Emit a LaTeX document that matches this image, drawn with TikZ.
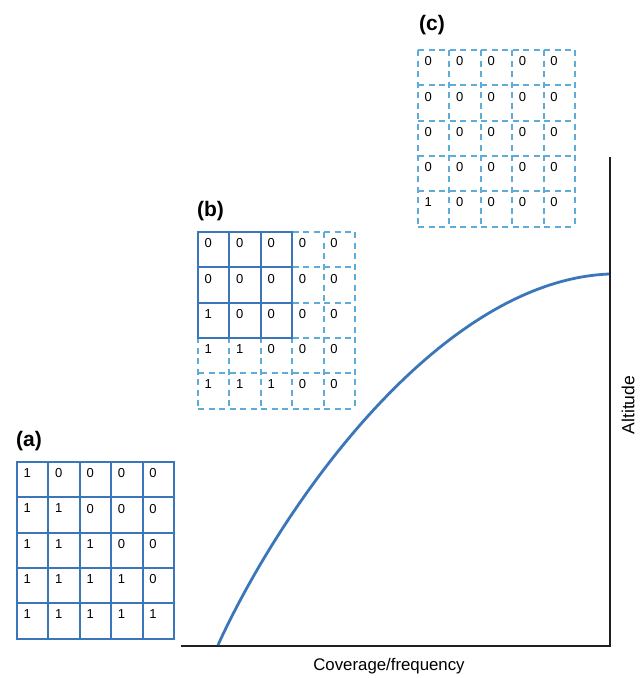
\documentclass[tikz,border=0pt]{standalone}
\usepackage{fontspec}
\setmainfont{Liberation Sans}
\usetikzlibrary{positioning}

\definecolor{gridblue}{RGB}{58,118,185}
\definecolor{dashblue}{RGB}{95,172,216}
\definecolor{axisgray}{RGB}{35,31,32}

\tikzset{
  cell/.style={minimum width=31.4pt, minimum height=35.3pt, inner sep=0pt,
    outer sep=0pt, line width=2pt, anchor=north west},
  solidcell/.style={cell, draw=gridblue},
  dashline/.style={draw=dashblue, line width=2pt, dash pattern=on 6pt off 4.5pt},
  num/.style={anchor=north west, inner sep=0pt, xshift=6.5pt, yshift=-6.5pt,
    font=\fontsize{13}{15}\selectfont, text=black},
  tag/.style={font=\fontsize{21}{24}\selectfont\bfseries},
  axis/.style={draw=axisgray, line width=2pt},
  curve/.style={draw=gridblue, line width=2.8pt},
}

\begin{document}
\begin{tikzpicture}[x=1pt, y=-1pt]
  \useasboundingbox (0,0) rectangle (644,678);

  % grids: (a) nested, (b) partly nested, (c) none
  \foreach \g/\gx/\gy/\k/\st in {a/17/462/0/solidcell, b/198/232/2/cell, c/418/50/4/cell} {
    \foreach \r in {1,...,5} {
      \foreach \c in {1,...,5} {
        \pgfmathtruncatemacro\v{\c+\k<=\r ? 1 : 0}
        \node[\st, label={[num]north west:\v}] (\g-\r-\c)
          at ({\gx+(\c-1)*31.4},{\gy+(\r-1)*35.3}) {};
      }
    }
  }
  % dashed grid lines of (b) and (c)
  \foreach \g in {b,c} {
    \foreach \i in {1,...,5} {
      \draw[dashline] (\g-\i-1.north west) -- (\g-\i-5.north east);
      \draw[dashline] (\g-1-\i.north west) -- (\g-5-\i.south west);
    }
    \draw[dashline] (\g-5-1.south west) -- (\g-5-5.south east);
    \draw[dashline] (\g-1-5.north east) -- (\g-5-5.south east);
  }
  % solid block of (b)
  \foreach \r in {1,2,3} {
    \foreach \c in {1,2,3} {
      \node[solidcell] (bs-\r-\c) at (b-\r-\c.north west) {};
    }
  }

  \node[tag] (a-tag) at (29,441) {(a)};
  \node[tag] (b-tag) at (210.5,211) {(b)};
  \node[tag] (c-tag) at (432,25) {(c)};

  % axes
  \coordinate (origin) at (181,646);
  \coordinate (corner) at (610,646);
  \coordinate (ytop) at (610,157);
  \draw[axis] (ytop) -- (corner) -- (origin);

  \coordinate (cstart) at (218,645);
  \coordinate (cend) at (609,274);
  \draw[curve] (cstart) .. controls (283,503) and (440,281) .. (cend);

  \node[font=\fontsize{16.8}{19}\selectfont] (xlabel) at (389,666) {Coverage/frequency};
  \node[font=\fontsize{17.5}{20}\selectfont, rotate=90] (ylabel) at (628,405) {Altitude};
\end{tikzpicture}
\end{document}
